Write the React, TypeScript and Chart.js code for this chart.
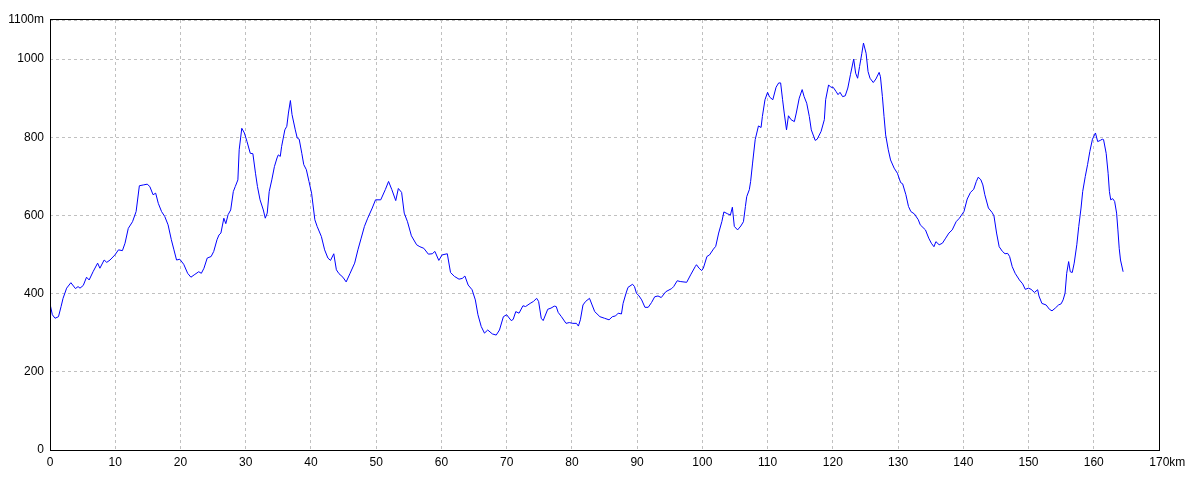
import React, { useEffect, useRef } from "react";
import { Chart, registerables } from "chart.js";

Chart.register(...registerables);

// Distance along the route (km)
const distanceKm: number[] = [
  0, 0.36, 0.77, 1.3, 1.7, 2.0, 2.55, 3.2, 3.9, 4.3, 4.6, 5.1, 5.6, 6.0, 6.6, 7.3, 7.65, 8.3, 8.7, 9.2,
  9.95, 10.5, 11.1, 11.5, 12.0, 12.65, 13.2, 13.7, 14.3, 14.9, 15.3, 15.8, 16.2, 16.6, 17.1, 17.6, 18.1, 18.6, 19.0, 19.4,
  19.9, 20.5, 21.1, 21.6, 22.1, 22.8, 23.2, 23.6, 24.1, 24.7, 25.1, 25.6, 25.9, 26.2, 26.65, 26.95, 27.3, 27.7, 28.1, 28.4,
  28.8, 29.0, 29.4, 29.8, 30.2, 30.7, 31.1, 31.5, 31.8, 32.2, 32.7, 33.0, 33.3, 33.6, 34.0, 34.4, 34.8, 35.0, 35.3, 35.5,
  36.0, 36.3, 36.55, 36.85, 37.1, 37.6, 37.9, 38.2, 38.6, 38.9, 39.3, 39.7, 40.1, 40.6, 40.95, 41.6, 42.1, 42.6, 43.0, 43.5,
  43.9, 44.3, 44.9, 45.4, 46.0, 46.7, 47.2, 47.7, 48.2, 48.7, 49.4, 49.9, 50.7, 51.4, 51.9, 52.4, 53.0, 53.4, 53.9, 54.3,
  54.8, 55.4, 56.2, 56.7, 57.3, 58.0, 58.6, 59.0, 59.6, 60.1, 60.9, 61.4, 62.0, 62.7, 63.2, 63.6, 64.1, 64.7, 65.2, 65.6,
  66.1, 66.6, 67.1, 67.8, 68.4, 68.9, 69.5, 70.0, 70.7, 71.0, 71.4, 71.9, 72.5, 72.9, 73.6, 74.1, 74.6, 74.9, 75.3, 75.6,
  76.3, 76.8, 77.3, 77.6, 77.9, 78.4, 79.1, 79.6, 80.15, 80.7, 81.0, 81.3, 81.7, 82.1, 82.7, 83.1, 83.5, 84.3, 85.0, 85.7,
  86.2, 86.7, 87.1, 87.6, 87.85, 88.3, 88.6, 89.3, 89.6, 89.9, 90.3, 90.7, 91.2, 91.7, 92.2, 92.7, 93.2, 93.7, 94.4, 95.3,
  95.6, 96.15, 96.6, 97.6, 98.2, 98.9, 99.1, 99.5, 99.9, 100.15, 100.7, 101.1, 101.7, 102.05, 102.5, 103.0, 103.3, 103.9, 104.3, 104.6,
  104.9, 105.4, 105.9, 106.3, 106.6, 106.8, 107.2, 107.4, 107.7, 108.1, 108.6, 109.0, 109.2, 109.6, 110.0, 110.3, 110.8, 111.3, 111.7, 112.0,
  112.3, 112.55, 112.9, 113.2, 113.6, 114.1, 114.4, 114.85, 115.3, 115.6, 116.0, 116.4, 116.7, 117.3, 117.6, 118.2, 118.7, 118.9, 119.35, 119.7,
  120.05, 120.5, 120.8, 121.1, 121.5, 121.9, 122.3, 122.7, 123.2, 123.5, 123.8, 124.1, 124.45, 124.7, 125.1, 125.4, 125.7, 126.2, 126.6, 127.1,
  127.3, 127.6, 127.85, 128.1, 128.5, 128.85, 129.4, 129.9, 130.4, 130.7, 131.2, 131.6, 131.96, 132.5, 133.1, 133.4, 134.2, 134.7, 135.1, 135.5,
  135.8, 136.3, 136.8, 137.3, 137.8, 138.3, 138.9, 139.4, 140.1, 140.6, 141.1, 141.6, 142.0, 142.3, 142.7, 143.0, 143.3, 143.85, 144.4, 144.7,
  145.1, 145.5, 146.0, 146.4, 146.8, 147.1, 147.5, 147.95, 148.6, 149.1, 149.5, 150.0, 150.4, 150.9, 151.4, 151.6, 152.05, 152.7, 153.2, 153.6,
  154.1, 154.6, 155.0, 155.3, 155.6, 155.85, 156.15, 156.4, 156.7, 157.0, 157.4, 157.7, 158.05, 158.3, 158.7, 159.05, 159.4, 159.8, 160.26, 160.6,
  161.0, 161.3, 161.5, 161.9, 162.2, 162.4, 162.6, 162.9, 163.2, 163.5, 163.7, 163.9, 164.1, 164.5,
];

// Elevation (m)
const elevationM: number[] = [
  374, 346, 337, 341, 367, 388, 414, 428, 413, 418, 414, 421, 442, 435, 456, 478, 465, 486, 480, 486,
  499, 512, 510, 529, 567, 584, 610, 676, 678, 680, 674, 653, 657, 631, 610, 597, 576, 538, 512, 486,
  488, 475, 452, 442, 448, 456, 452, 465, 491, 495, 508, 538, 550, 555, 593, 579, 602, 614, 661, 674,
  691, 768, 823, 811, 789, 759, 758, 708, 674, 640, 614, 593, 606, 661, 691, 725, 747, 755, 751, 776,
  819, 828, 862, 894, 858, 819, 798, 795, 759, 730, 717, 687, 657, 589, 572, 546, 512, 491, 485, 502,
  461, 451, 442, 430, 452, 478, 512, 542, 572, 593, 619, 640, 640, 666, 687, 666, 638, 669, 659, 606,
  584, 548, 525, 520, 516, 501, 502, 508, 485, 499, 502, 454, 444, 437, 439, 445, 422, 410, 384, 346,
  316, 299, 307, 297, 294, 307, 341, 346, 331, 334, 354, 350, 369, 367, 375, 380, 388, 380, 337, 331,
  360, 363, 368, 367, 352, 341, 324, 326, 324, 324, 317, 333, 371, 380, 388, 371, 354, 341, 337, 333,
  341, 343, 350, 348, 375, 401, 416, 424, 418, 401, 394, 384, 365, 365, 377, 392, 394, 390, 405, 413,
  418, 433, 431, 429, 448, 469, 474, 465, 459, 465, 495, 499, 514, 521, 555, 585, 609, 604, 601, 621,
  572, 563, 573, 584, 623, 648, 666, 687, 734, 794, 829, 825, 853, 896, 915, 903, 896, 928, 939, 939,
  896, 862, 819, 855, 845, 840, 862, 900, 922, 904, 887, 853, 819, 792, 795, 815, 845, 896, 934, 928,
  928, 917, 909, 915, 904, 906, 926, 960, 1000, 964, 951, 981, 1015, 1041, 1015, 968, 951, 940, 949, 966,
  955, 904, 853, 806, 768, 742, 721, 708, 684, 681, 653, 623, 610, 604, 589, 576, 563, 542, 529, 520,
  533, 525, 529, 542, 555, 563, 584, 593, 610, 642, 659, 667, 687, 698, 691, 678, 653, 619, 608, 599,
  555, 520, 508, 502, 503, 495, 469, 452, 435, 425, 411, 414, 411, 403, 410, 394, 375, 371, 360, 356,
  363, 371, 374, 384, 401, 452, 482, 456, 454, 478, 525, 572, 619, 661, 700, 730, 764, 795, 811, 789,
  792, 795, 794, 759, 708, 661, 640, 643, 636, 606, 563, 516, 486, 456,
];

const yTickValues: number[] = [0, 200, 400, 600, 800, 1000, 1100];
const xMax = 170;
const yMax = 1100;

const FONT_FAMILY = '"Liberation Sans", Arial, sans-serif';

const framePlugin = {
  id: "frame",
  afterDatasetsDraw(chart: any) {
    const { ctx, chartArea } = chart;
    const l = Math.round(chartArea.left);
    const r = Math.round(chartArea.right);
    const t = Math.round(chartArea.top) - 1;
    const b = Math.round(chartArea.bottom);
    ctx.save();
    ctx.strokeStyle = "#000000";
    ctx.lineWidth = 1;
    ctx.strokeRect(l + 0.5, t + 0.5, r - l, b - t);
    ctx.restore();
  },
};

export default function App() {
  const canvasRef = useRef<HTMLCanvasElement | null>(null);

  useEffect(() => {
    if (!canvasRef.current) return;
    const points = distanceKm.map((d, i) => ({ x: d, y: elevationM[i] }));
    const chart = new Chart(canvasRef.current, {
      type: "line",
      data: {
        datasets: [
          {
            data: points,
            borderColor: "#0000FF",
            borderWidth: 1,
            pointRadius: 0,
            tension: 0,
            fill: false,
          },
        ],
      },
      options: {
        animation: false,
        responsive: false,
        devicePixelRatio: 1,
        layout: { padding: { top: 20, right: 41, left: 0, bottom: 0 } },
        plugins: { legend: { display: false }, tooltip: { enabled: false } },
        scales: {
          x: {
            type: "linear",
            min: 0,
            max: xMax,
            afterFit: (scale: any) => {
              scale.height = 30;
            },
            ticks: {
              stepSize: 10,
              autoSkip: false,
              maxRotation: 0,
              padding: 5,
              color: "#000000",
              font: { family: FONT_FAMILY, size: 12 },
              callback: (v: any) => (Number(v) === xMax ? "     " + v + "km" : String(v)),
            },
            grid: {
              color: "#c0c0c0",
              lineWidth: 1,
              drawTicks: false,
            },
            border: { display: false, dash: [3, 3] },
          },
          y: {
            type: "linear",
            min: 0,
            max: yMax,
            afterFit: (scale: any) => {
              scale.width = 50;
            },
            afterBuildTicks: (scale: any) => {
              scale.ticks = yTickValues.map((v) => ({ value: v }));
            },
            ticks: {
              autoSkip: false,
              padding: 6,
              color: "#000000",
              font: { family: FONT_FAMILY, size: 12 },
              callback: (v: any) => (Number(v) === yMax ? v + "m" : String(v)),
            },
            grid: {
              color: "#c0c0c0",
              lineWidth: 1,
              drawTicks: false,
            },
            border: { display: false, dash: [3, 3] },
          },
        },
      },
      plugins: [framePlugin],
    });
    return () => chart.destroy();
  }, []);

  return (
    <div style={{ position: "absolute", left: 0, top: 0, width: 1200, height: 480, background: "#ffffff" }}>
      <canvas ref={canvasRef} width={1200} height={480} style={{ display: "block" }} />
    </div>
  );
}
